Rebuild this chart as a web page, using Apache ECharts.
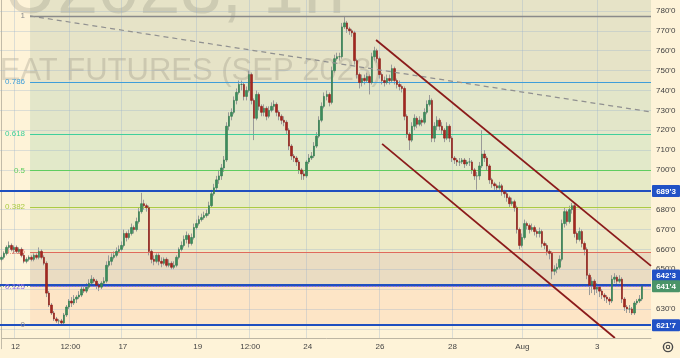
<!DOCTYPE html>
<html><head><meta charset="utf-8">
<script src="https://cdn.jsdelivr.net/npm/echarts@6/dist/echarts.min.js"></script>
<style>html,body{margin:0;padding:0;background:#fef3d8;}#c{width:680px;height:358px;}</style>
</head><body><div id="c"></div>
<script>
// ---------- DATA ----------
const closes = [656,658,661,662,660,661,659,660,657,654,
655,656,655,657,656,659,656,653,638,632,
628,625,624,624,623,627,631,634,633,635,
636,637,640,639,641,643,645,644,642,641,
643,644,652,654,656,657,659,660,662,668,
666,668,671,670,674,679,683,682,681,659,
655,654,657,654,653,655,652,653,651,652,
656,660,662,665,667,663,666,671,673,675,
676,677,678,682,688,691,695,697,701,705,
722,727,729,735,739,743,743,737,740,748,
735,726,738,732,729,731,727,730,732,733,
729,727,725,724,720,712,707,706,704,700,
698,697,704,706,707,712,717,725,732,737,
738,734,750,756,757,757,772,774,771,770,
769,755,748,744,746,745,747,744,757,760,
756,748,745,744,746,745,751,745,743,742,
741,727,718,715,722,726,723,725,724,729,
733,735,716,722,725,722,720,716,722,716,
706,705,704,704,705,703,704,704,700,697,
697,702,708,706,702,695,693,692,691,692,
689,688,686,683,684,681,670,662,666,673,
672,670,671,669,668,669,663,662,659,658,
649,650,651,655,673,679,674,680,682,668,
665,669,663,660,647,642,644,640,641,639,
637,636,635,634,645,646,644,645,635,631,
630,630,628,633,634,635,641.5];
const opens = [655,656,658,661,662,660,661,659,660,657,
654,655,656,655,657,656,659,656,653,638,
632,628,625,624,624,623,627,631,634,633,
635,636,637,640,639,641,643,645,644,642,
641,643,644,652,654,656,657,659,660,662,
668,666,668,671,670,674,679,683,682,681,
659,655,654,657,654,653,655,652,653,651,
652,656,660,662,665,667,663,666,671,673,
675,676,677,678,682,688,691,695,697,701,
705,722,727,729,735,739,743,743,737,740,
748,735,726,738,732,729,731,727,730,732,
733,729,727,725,724,720,712,707,706,704,
700,698,697,704,706,707,712,717,725,732,
737,738,734,750,756,757,757,772,774,771,
770,769,755,748,744,746,745,747,744,757,
760,756,748,745,744,746,745,751,745,743,
742,741,727,718,715,722,726,723,725,724,
729,733,735,716,722,725,722,720,716,722,
716,706,705,704,704,705,703,704,704,700,
697,697,702,708,706,702,695,693,692,691,
692,689,688,686,683,684,681,670,662,666,
673,672,670,671,669,668,669,663,662,659,
658,649,650,651,655,673,679,674,680,682,
668,665,669,663,660,647,642,644,640,641,
639,637,636,635,634,645,646,644,645,635,
631,630,630,628,633,634,635];
const highs = [657,659,662,664,663,662,662,661,661,658,
656,657,657,658,658,661,660,657,654,639,
633,629,626,625,625,628,632,635,636,637,
637,639,642,641,643,645,647,646,645,643,
644,646,654,657,658,659,661,662,664,670,
669,670,673,672,676,681,688.5,685,683,682,
660,657,658,658,656,656,656,655,654,654,
657,661,664,667,669,668,668,673,675,677,
678,679,680,684,690,693,697,700,703,707,
724,729,731,737,741,745,745,744,742,750,
749,736,740,739,733,733,732,732,734,735,
734,730,728,727,725,721,713,708,707,705,
701,700,705,708,709,714,719,727,734,739,
740,739,752,758,759,759,774,777.5,775,772,
771,770,756,749,748,748,749,748,759,762,
761,757,749,747,748,748,753,752,746,745,
743,742,728,719,724,728,727,727,726,731,
735,737.7,736,724,727,726,724,721,724,723,
717,707,706,706,706,706,705,706,705,701,
699,704,720,710,707,703,696,694,693,694,
693,690,689,687,686,685,682,671,668,675,
674,673,673,672,670,671,670,664,663,660,
659,652,653,657,675,681,680,682,683.4,683,
669,671,670,664,661,648,646,645,643,642,
640,638,637,636,647,648,647,647,646,636,
632,632,631,634,635,637,642];
const lows = [654,655,657,660,659,658,658,658,656,653,
653,654,654,654,655,655,655,652,636,631,
627,624,623,622.5,621.875,622,626,630,631,632,
633,635,636,638,638,640,642,643,640,639,
640,642,643,651,652,655,656,658,659,661,
664,665,667,668,669,673,678,680,679,657,
653,652,653,652,651,652,651,651,650,650,
651,655,659,661,663,661,662,665,670,672,
674,675,676,677,681,687,690,693,695,699,
704,720,725,728,733,738,740,735,735,739,
733,715,725,730,727,727,725,726,729,730,
727,725,723,722,718,710,705,704,702,698,
695,695,696,703,705,706,711,716,724,731,
735,732,733,749,755,755,756,771,769,768,
767,753,746,741,742,743,744,738,743,755,
754,746,743,742,743,743,744,743,741,740,
739,725,716,710,714,720,721,722,722,723,
728,732,714,714,720,720,718,714,715,714,
704,703,702,702,703,701,702,702,698,695,
690,695,701,704,700,693,691,690,689,690,
687,686,684,681,682,679,668,660,661,665,
670,668,669,667,666,666,661,660,657,655,
645,647,648,650,654,671,672,673,678,666,
663,664,661,657,645,637,638,637,638,636,
635,634,633,632,633,643,642,643,633,629,
628,628,627,627,632,633,634];

const N_SLOTS = 260;
const xTickIdx  = [5, 27, 48, 78, 99, 122, 151, 180, 208, 238];
const xTickText = ['12', '12:00', '17', '19', '12:00', '24', '26', '28', 'Aug', '3'];
const yTicks = [620,630,640,650,660,670,680,690,700,710,720,730,740,750,760,770,780];

const fibHigh = 777.5, fibLow = 621.875, fibStartIdx = 11.5;
const fibRatios = [1, 0.786, 0.618, 0.5, 0.382, 0.236, 0.125, 0];
const fibLabels = ['1', '0.786', '0.618', '0.5', '0.382', '0.236', '0.125', '0'];
const fibLineColors = ['#8a8a8a', '#3f9ed9', '#3fcf9c', '#5fcd5f', '#aacb45', '#e06a5c', '#8f72ec', '#8a8a8a'];
const fibZoneColors = ['#e6e3c7', '#e3e6c9', '#e2e9c9', '#e6eac6', '#eeeac7', '#eadcc2', '#fde5c6'];

const levelPrices = [689.375, 642.375, 621.875];
const lastPrice = 641.5;
const dashedTrend  = [[11.5, 777.5], [259.5, 729.2]];
const channelUpper = [[149.7, 765.4], [259.5, 651.7]];
const channelLower = [[152.1, 713.1], [245.1, 615.4]];
const paneMinPrice = 615.4, axisMin = 610, axisMax = 785.537;
const priceTags = [
  {price: 689.375, color: '#2252c6', shift: 0},
  {price: 642.375, color: '#2252c6', shift: -9},
  {price: 641.5,   color: '#4a9468', shift: 0},
  {price: 621.875, color: '#2252c6', shift: 0}
];

// ---------- BUILD ----------
const FONT = '"Liberation Sans", Arial, sans-serif';
const fmtPrice = p => { const f = Math.floor(p); return f + "'" + Math.round((p - f) * 8); };
const fibPrice = r => fibLow + r * (fibHigh - fibLow);
const X1 = N_SLOTS - 0.5;
const categories = Array.from({length: N_SLOTS}, (_, i) => { const k = xTickIdx.indexOf(i); return k >= 0 ? xTickText[k] : ''; });
const wickData = closes.map((c, i) => [opens[i], c, lows[i], highs[i]]);
const bodyData = closes.map((c, i) => [opens[i], c, Math.min(opens[i], c), Math.max(opens[i], c)]);

const zoneData = [[{coord: [fibStartIdx, axisMax], itemStyle: {color: fibZoneColors[0]}}, {coord: [X1, fibPrice(1)]}]];
for (let k = 0; k < fibRatios.length - 1; k++) {
  zoneData.push([{coord: [fibStartIdx, fibPrice(fibRatios[k])], itemStyle: {color: fibZoneColors[k]}}, {coord: [X1, fibPrice(fibRatios[k + 1])]}]);
}
const fibLineData = fibRatios.map((r, k) => [
  {coord: [fibStartIdx, fibPrice(r)], lineStyle: {color: fibLineColors[k], width: k === 0 ? 1.4 : 1.2, type: 'solid'},
   label: {show: true, position: 'start', distance: 5, formatter: fibLabels[k], color: fibLineColors[k], fontSize: 8, fontFamily: FONT}},
  {coord: [X1, fibPrice(r)]}
]);
const gridColor = 'rgba(150,175,205,0.32)';
const gridLineData = yTicks.map(v => ({yAxis: v}))
  .concat(xTickIdx.map(i => [{coord: [i, paneMinPrice]}, {coord: [i, axisMax]}]));

const chart = echarts.init(document.getElementById('c'), null, {renderer: 'canvas', width: 680, height: 358});
const trendSeries = (data, color, width, type, z) => ({
  type: 'line', xAxisIndex: 1, yAxisIndex: 0, data: data, showSymbol: false, symbol: 'none', silent: true, z: z,
  lineStyle: {color: color, width: width, type: type}, animation: false
});

chart.setOption({
  animation: false,
  backgroundColor: '#fef3d8',
  grid: [
    {left: 0, right: 29, top: 0, bottom: 9.27},
    {left: 0, right: 29, top: 0, bottom: 20}
  ],
  xAxis: [
    {type: 'category', gridIndex: 0, data: categories, boundaryGap: true, show: false},
    {type: 'value', gridIndex: 0, min: -0.5, max: X1, show: false},
    {type: 'category', gridIndex: 1, data: categories, boundaryGap: true, z: 10,
     axisLine: {show: true, lineStyle: {color: '#bdb6a3', width: 1}},
     axisTick: {show: false}, splitLine: {show: false},
     axisLabel: {interval: 0, color: '#444', fontSize: 8, fontFamily: FONT, margin: 5}}
  ],
  yAxis: [
    {type: 'value', gridIndex: 0, position: 'right', min: axisMin, max: axisMax, interval: 10, z: 1,
     axisLine: {show: true, lineStyle: {color: '#c2bba8'}}, axisTick: {show: false}, splitLine: {show: false},
     axisLabel: {color: '#3f3f3f', fontSize: 8, fontFamily: FONT, margin: 5, showMaxLabel: false,
       formatter: v => (v >= yTicks[0] && v <= yTicks[yTicks.length - 1]) ? v + "'0" : ''}},
    {type: 'value', gridIndex: 1, show: false}
  ],
  series: [
    {type: 'line', xAxisIndex: 1, yAxisIndex: 0, data: [], z: 1, silent: true,
     markArea: {silent: true, data: zoneData}},
    {type: 'line', xAxisIndex: 1, yAxisIndex: 0, data: [], z: 3, silent: true,
     markLine: {silent: true, symbol: 'none', label: {show: false}, lineStyle: {color: gridColor, width: 1, type: 'solid'}, data: gridLineData}},
    {type: 'candlestick', xAxisIndex: 0, yAxisIndex: 0, data: wickData, barWidth: 1, z: 4, silent: true,
     itemStyle: {color: '#9a9a98', color0: '#9a9a98', borderColor: '#9a9a98', borderColor0: '#9a9a98', borderWidth: 1}},
    {type: 'candlestick', xAxisIndex: 0, yAxisIndex: 0, data: bodyData, barWidth: 2, z: 5, silent: true,
     itemStyle: {color: '#3c8c5c', color0: '#a2261f', borderColor: '#2f7a4d', borderColor0: '#8f1d18', borderWidth: 0.6}},
    {type: 'line', xAxisIndex: 1, yAxisIndex: 0, data: [], z: 6, silent: true,
     markLine: {silent: true, symbol: 'none', label: {show: false}, lineStyle: {type: 'solid'}, data: fibLineData}},
    {type: 'line', xAxisIndex: 1, yAxisIndex: 0, data: [], z: 7, silent: true,
     markLine: {silent: true, symbol: 'none', label: {show: false},
       data: [{yAxis: lastPrice, lineStyle: {color: '#8a9a8e', width: 1, type: [1, 2]}}]
         .concat(levelPrices.map(p => ({yAxis: p, lineStyle: {color: '#1f4fbf', width: 2, type: 'solid'}})))}},
    trendSeries(dashedTrend, '#909090', 1.2, [5, 4], 8),
    trendSeries(channelUpper, '#8b1b1b', 1.8, 'solid', 8),
    trendSeries(channelLower, '#8b1b1b', 1.8, 'solid', 8)
  ]
});

// ---------- GRAPHICS (watermark, price tags, gear) ----------
const rightX = chart.convertToPixel({xAxisIndex: 1}, X1);
const graphics = [
  {type: 'text', z: 2, silent: true, style: {text: 'ZWU2023, 1h', x: 345, y: 30, align: 'right', verticalAlign: 'bottom',
     font: '74px ' + FONT, fill: 'rgba(120,118,105,0.22)'}},
  {type: 'text', z: 2, silent: true, style: {text: 'WHEAT FUTURES (SEP 2023)', x: -52, y: 87, align: 'left', verticalAlign: 'bottom',
     font: '31px ' + FONT, fill: 'rgba(120,118,105,0.24)'}},
  {type: 'circle', z: 20, silent: true, shape: {cx: 668, cy: 347, r: 4.6}, style: {fill: 'none', stroke: '#4a4a4a', lineWidth: 1.4}},
  {type: 'circle', z: 20, silent: true, shape: {cx: 668, cy: 347, r: 1.7}, style: {fill: 'none', stroke: '#4a4a4a', lineWidth: 1.1}}
];
priceTags.forEach(t => {
  const y = chart.convertToPixel({yAxisIndex: 0}, t.price) + t.shift;
  graphics.push({type: 'rect', z: 20, silent: true, shape: {x: rightX + 1, y: y - 6, width: 28, height: 12, r: 1}, style: {fill: t.color}});
  graphics.push({type: 'text', z: 21, silent: true, style: {text: fmtPrice(t.price), x: rightX + 15, y: y + 0.5, align: 'center', verticalAlign: 'middle',
     font: 'bold 8px ' + FONT, fill: '#ffffff'}});
});
chart.setOption({graphic: graphics});
</script>
</body></html>
